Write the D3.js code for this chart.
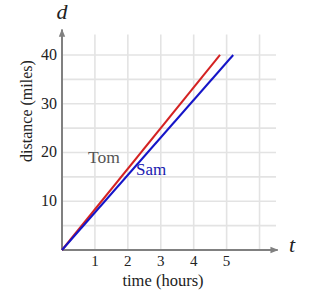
<!DOCTYPE html>
<html>
<head>
<meta charset="utf-8">
<script src="https://cdn.jsdelivr.net/npm/d3@7"></script>
<style>
  body { margin: 0; background: #fff; }
</style>
</head>
<body>
<script>
// data
var xTicks = [1, 2, 3, 4, 5];
var yTicks = [10, 20, 30, 40];
var tomPoints = [[0, 0], [4.8, 40]];
var samPoints = [[0, 0], [5.2, 40]];
var xGrid = [1, 2, 3, 4, 5, 6];
var yGrid = [5, 10, 15, 20, 25, 30, 35, 40];

var width = 320, height = 290;
var serif = "'Liberation Serif', 'DejaVu Serif', serif";

var svg = d3.select("body").append("svg")
    .attr("width", width)
    .attr("height", height)
    .attr("font-family", serif);

var x = d3.scaleLinear().domain([0, 6.5]).range([62, 276]);
var y = d3.scaleLinear().domain([0, 45]).range([250, 30.6]);

// grid
svg.selectAll(".vgrid")
    .data(xGrid)
    .enter()
    .append("line")
    .attr("x1", function (d) { return x(d); })
    .attr("x2", function (d) { return x(d); })
    .attr("y1", y(0))
    .attr("y2", y(44.2))
    .attr("stroke", "#e3e3e3")
    .attr("stroke-width", 1.6);

svg.selectAll(".hgrid")
    .data(yGrid)
    .enter()
    .append("line")
    .attr("x1", x(0))
    .attr("x2", x(6.5))
    .attr("y1", function (d) { return y(d); })
    .attr("y2", function (d) { return y(d); })
    .attr("stroke", "#e3e3e3")
    .attr("stroke-width", 1.6);

// axes with arrows
var defs = svg.append("defs");
defs.append("marker")
    .attr("id", "arrow")
    .attr("viewBox", "0 0 10 10")
    .attr("refX", 9)
    .attr("refY", 5)
    .attr("markerWidth", 4)
    .attr("markerHeight", 4)
    .attr("orient", "auto")
    .append("path")
    .attr("d", "M0,1 L10,5 L0,9 Z")
    .attr("fill", "#808080");

svg.append("line")
    .attr("x1", x(0)).attr("y1", y(0))
    .attr("x2", x(6.55)).attr("y2", y(0))
    .attr("stroke", "#808080")
    .attr("stroke-width", 2)
    .attr("marker-end", "url(#arrow)");

svg.append("line")
    .attr("x1", x(0)).attr("y1", y(0))
    .attr("x2", x(0)).attr("y2", y(45.2))
    .attr("stroke", "#808080")
    .attr("stroke-width", 2)
    .attr("marker-end", "url(#arrow)");

// tick labels
svg.selectAll(".xlab")
    .data(xTicks)
    .enter()
    .append("text")
    .attr("x", function (d) { return x(d); })
    .attr("y", 266)
    .attr("text-anchor", "middle")
    .attr("font-size", 15)
    .attr("fill", "#222")
    .text(function (d) { return d; });

svg.selectAll(".ylab")
    .data(yTicks)
    .enter()
    .append("text")
    .attr("x", 57)
    .attr("y", function (d) { return y(d) + 5; })
    .attr("text-anchor", "end")
    .attr("font-size", 16)
    .attr("fill", "#222")
    .text(function (d) { return d; });

// lines
var line = d3.line()
    .x(function (d) { return x(d[0]); })
    .y(function (d) { return y(d[1]); });

svg.append("path")
    .attr("d", line(tomPoints))
    .attr("fill", "none")
    .attr("stroke", "#d42222")
    .attr("stroke-width", 2);

svg.append("path")
    .attr("d", line(samPoints))
    .attr("fill", "none")
    .attr("stroke", "#1515c8")
    .attr("stroke-width", 2);

// labels
svg.append("text")
    .attr("x", 88).attr("y", 163)
    .attr("font-size", 17.5)
    .attr("fill", "#555")
    .text("Tom");

svg.append("text")
    .attr("x", 136).attr("y", 175)
    .attr("font-size", 17)
    .attr("fill", "#1a1ab0")
    .text("Sam");

svg.append("text")
    .attr("x", 163).attr("y", 286)
    .attr("text-anchor", "middle")
    .attr("font-size", 16.5)
    .attr("fill", "#222")
    .text("time (hours)");

svg.append("text")
    .attr("transform", "translate(32,111) rotate(-90)")
    .attr("text-anchor", "middle")
    .attr("font-size", 16)
    .attr("fill", "#222")
    .text("distance (miles)");

svg.append("text")
    .attr("x", 62).attr("y", 19)
    .attr("text-anchor", "middle")
    .attr("font-size", 22)
    .attr("font-style", "italic")
    .attr("fill", "#222")
    .text("d");

svg.append("text")
    .attr("x", 292).attr("y", 252)
    .attr("text-anchor", "middle")
    .attr("font-size", 22)
    .attr("font-style", "italic")
    .attr("fill", "#222")
    .text("t");
</script>
</body>
</html>
